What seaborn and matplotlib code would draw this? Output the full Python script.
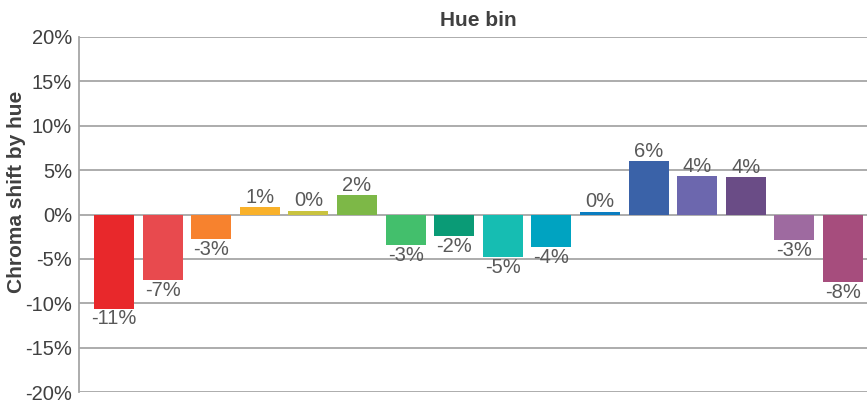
import matplotlib
matplotlib.use("Agg")
import matplotlib.pyplot as plt
import numpy as np
import pandas as pd
import seaborn as sns
from matplotlib.ticker import FuncFormatter

# chart data
hue_bins = [f"bin{i}" for i in range(1, 17)]
chroma_shift = [-10.6, -7.4, -2.8, 0.85, 0.45, 2.2, -3.4, -2.4,
                -4.8, -3.7, 0.3, 6.0, 4.3, 4.2, -2.9, -7.6]
bar_colors = ["#E8282B", "#E84A4E", "#F7822E", "#F9B12A", "#C9C33F", "#7DB847",
              "#43BF6C", "#0A9B76", "#16BDB2", "#00A3C1", "#0A7DC0", "#3A62A8",
              "#6C67AE", "#6A4C86", "#9E6AA0", "#A64D7D"]
y_ticks = [-20, -15, -10, -5, 0, 5, 10, 15, 20]

df = pd.DataFrame({"bin": hue_bins, "shift": chroma_shift})

sns.set_style("white")
plt.rcParams["font.family"] = ["Liberation Sans", "DejaVu Sans"]

fig = plt.figure(figsize=(8.67, 4.05), dpi=100)
ax = fig.add_axes([79 / 867, 13 / 405, 799 / 867, 355 / 405])

sns.barplot(data=df, x="bin", y="shift", hue="bin", palette=bar_colors,
            width=0.82, saturation=1, linewidth=0, legend=False, ax=ax,
            zorder=3)

# labels on bars
for i, v in enumerate(chroma_shift):
    if v >= 0:
        ax.text(i, v + 0.05, f"{v:.0f}%", ha="center", va="bottom",
                fontsize=14.5, color="#595959", zorder=4)
    else:
        ax.text(i, v - 0.1, f"{v:.0f}%", ha="center", va="top",
                fontsize=14.5, color="#595959", zorder=4)

ax.set_ylim(-20, 20)
ax.set_yticks(y_ticks)
ax.yaxis.set_major_formatter(FuncFormatter(lambda v, p: f"{v:.0f}%"))
ax.set_xlim(-0.72, 15.72)
ax.set_xticks([])
ax.set_xlabel("")
ax.grid(axis="y", color="#A6A6A6", linewidth=1.3, zorder=0)
ax.set_axisbelow(True)
for s in ["top", "right", "bottom"]:
    ax.spines[s].set_visible(False)
ax.spines["left"].set_color("#A6A6A6")
ax.spines["left"].set_linewidth(1.3)
ax.tick_params(axis="y", labelsize=14.5, labelcolor="#404040", length=0, pad=5)

ax.set_ylabel("Chroma shift by hue", fontsize=15, fontweight="bold",
              color="#404040")
ax.yaxis.set_label_coords(-0.066, 0.563)
ax.set_title("Hue bin", fontsize=15, fontweight="bold", color="#404040",
             pad=8, x=0.5)

fig.savefig("out.png", dpi=100)
